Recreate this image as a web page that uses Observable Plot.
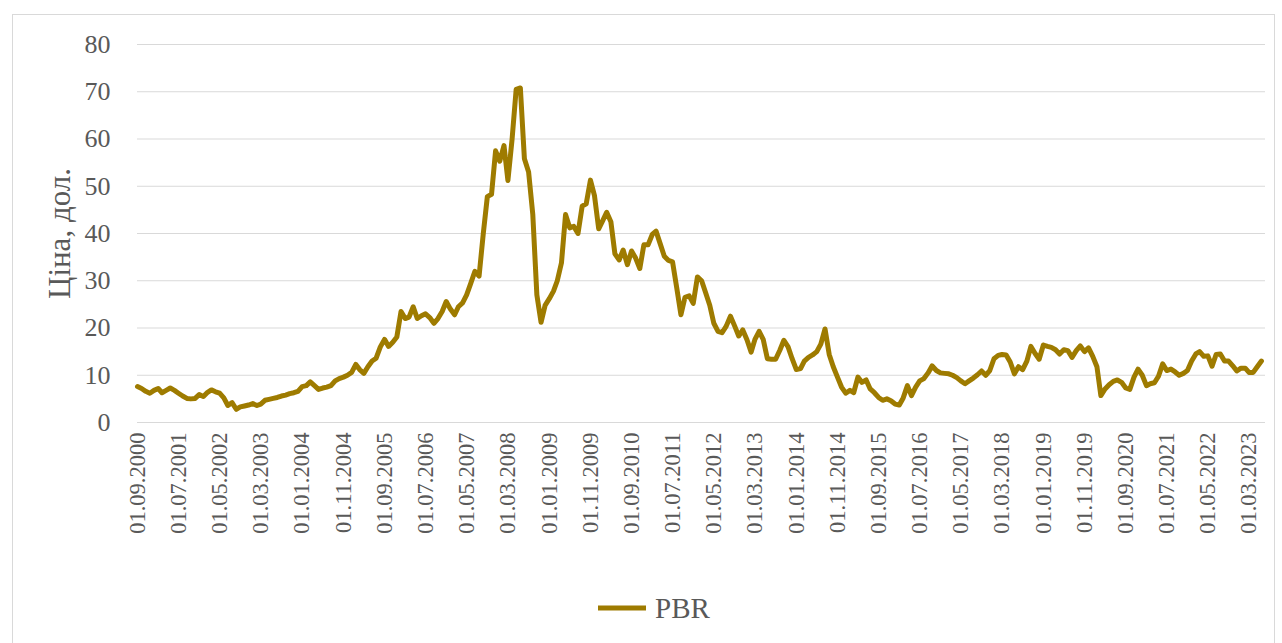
<!DOCTYPE html>
<html><head><meta charset="utf-8">
<script src="https://cdn.jsdelivr.net/npm/d3@7"></script>
<script src="https://cdn.jsdelivr.net/npm/@observablehq/plot@0.6"></script>
<style>
body{margin:0;background:#fff;font-family:"Liberation Serif","Times New Roman",serif;}
#frame{position:absolute;left:12px;top:14px;width:1263px;height:640px;border:1px solid #d9d9d9;box-sizing:border-box;}
#chart{position:absolute;left:0;top:0;}
#legend{position:absolute;left:598px;top:590px;display:flex;align-items:center;gap:9px;font-size:29px;color:#595959;line-height:36px;}
</style></head><body>
<div id="frame"></div>
<div id="chart"></div>
<div id="legend"><svg width="48" height="8"><line x1="0" x2="48" y1="4" y2="4" stroke="#9E7B00" stroke-width="5"/></svg><span>PBR</span></div>
<script>
const seriesName = "PBR";
const startMonth = "2000-09-01";
const prices = [
7.6,7.2,6.6,6.2,6.8,7.2,6.3,6.8,7.3,6.8,
6.2,5.6,5.1,5.0,5.1,5.9,5.5,6.4,6.9,6.5,
6.2,5.2,3.6,4.2,2.8,3.3,3.5,3.7,4.0,3.6,
3.9,4.7,4.9,5.1,5.3,5.6,5.8,6.1,6.3,6.6,
7.6,7.8,8.6,7.8,7.0,7.3,7.5,7.8,8.8,9.3,
9.6,10.0,10.6,12.3,11.2,10.4,11.8,13.0,13.6,16.0,
17.6,16.1,17.0,18.1,23.5,22.0,22.3,24.5,22.0,22.6,
23.0,22.2,21.0,22.0,23.5,25.6,24.0,22.8,24.5,25.3,
27.0,29.5,32.0,31.0,40.0,47.8,48.3,57.5,55.3,58.6,
51.2,60.0,70.5,70.8,55.8,53.0,44.0,27.0,21.2,24.8,
26.2,27.8,30.0,33.8,44.0,41.2,41.5,40.0,45.8,46.3,
51.3,48.0,41.0,42.8,44.5,42.5,35.7,34.4,36.5,33.4,
36.3,34.8,32.6,37.6,37.6,39.8,40.5,37.8,35.2,34.3,
34.0,28.5,22.8,26.5,26.8,25.2,30.8,30.0,27.5,24.8,
21.0,19.3,19.0,20.4,22.5,20.5,18.3,19.6,17.5,14.9,
17.6,19.3,17.6,13.5,13.4,13.4,15.3,17.4,16.0,13.5,
11.2,11.4,13.0,13.8,14.3,15.0,16.6,19.8,14.4,11.8,
9.6,7.5,6.2,6.8,6.3,9.6,8.5,9.0,7.1,6.3,
5.3,4.7,5.0,4.6,3.9,3.7,5.2,7.8,5.7,7.5,
8.8,9.3,10.5,12.0,11.0,10.5,10.4,10.3,10.0,9.5,
8.8,8.2,8.8,9.4,10.1,10.9,10.0,11.0,13.5,14.2,
14.4,14.3,12.8,10.3,11.8,11.2,13.0,16.1,14.6,13.4,
16.4,16.1,15.9,15.4,14.5,15.4,15.2,13.8,15.2,16.2,
15.0,15.8,14.0,11.8,5.7,7.1,8.0,8.7,9.0,8.5,
7.3,7.0,9.6,11.3,10.0,7.8,8.2,8.4,9.8,12.4,
11.0,11.3,10.7,10.0,10.4,11.0,13.0,14.5,15.0,14.0,
14.1,11.9,14.4,14.5,13.0,13.0,12.0,10.9,11.5,11.5,
10.6,10.6,11.8,13.0
];
const xTickLabels = ["01.09.2000","01.07.2001","01.05.2002","01.03.2003","01.01.2004","01.11.2004","01.09.2005","01.07.2006","01.05.2007","01.03.2008","01.01.2009","01.11.2009","01.09.2010","01.07.2011","01.05.2012","01.03.2013","01.01.2014","01.11.2014","01.09.2015","01.07.2016","01.05.2017","01.03.2018","01.01.2019","01.11.2019","01.09.2020","01.07.2021","01.05.2022","01.03.2023"];
const yTicks = [0,10,20,30,40,50,60,70,80];
const yLabel = "Ціна, дол.";

const start = new Date(startMonth + "T00:00:00Z");
const data = prices.map((v, i) => ({date: d3.utcMonth.offset(start, i), value: v}));
const parse = d3.utcParse("%d.%m.%Y");
const tickDates = xTickLabels.map(parse);
const fmt = d3.utcFormat("%d.%m.%Y");
const domainEnd = d3.utcMonth.offset(start, prices.length);

const chart = Plot.plot({
  width: 1282, height: 560,
  marginLeft: 137, marginRight: 17, marginTop: 44, marginBottom: 138,
  style: {fontFamily: '"Liberation Serif", "Times New Roman", serif', fontSize: "22px", color: "#595959", background: "transparent"},
  x: {type: "utc", domain: [start, domainEnd]},
  y: {domain: [0, 80]},
  marks: [
    Plot.gridY(yTicks, {stroke: "#d9d9d9", strokeOpacity: 1, strokeWidth: 1}),
    Plot.axisY(yTicks, {tickSize: 0, tickPadding: 27, fontSize: 26, label: null}),
    Plot.axisY([], {tickSize: 0, fontSize: 31, label: yLabel, labelAnchor: "center", labelOffset: 90, labelArrow: "none"}),
    Plot.axisX(tickDates, {tickSize: 0, tickRotate: -90, tickPadding: 10, fontSize: 22.5, tickFormat: fmt, label: null}),
    Plot.lineY(data, {x: "date", y: "value", stroke: "#9E7B00", strokeWidth: 5, strokeLinejoin: "round", strokeLinecap: "round"})
  ]
});
document.getElementById("chart").appendChild(chart);
</script>
</body></html>
